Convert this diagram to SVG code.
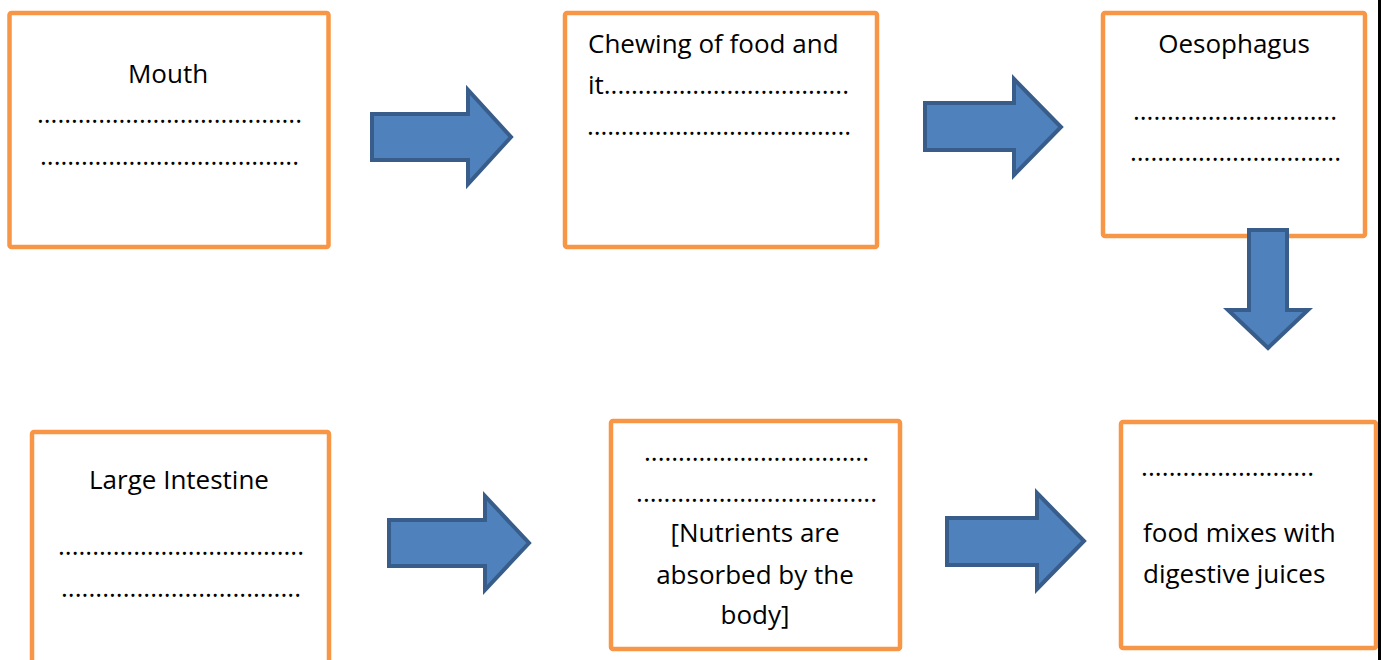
<svg xmlns="http://www.w3.org/2000/svg" width="1381" height="660" viewBox="0 0 1381 660">
<style>
.box{fill:#ffffff;stroke:#F79646;stroke-width:4.5}
.t{font-family:"Open Sans","Liberation Sans",sans-serif;font-size:26px;fill:#000}
.c{text-anchor:middle}
.arrow{fill:#4F81BD;stroke:#385D8A;stroke-width:4;stroke-linejoin:miter}
</style>
<rect width="1381" height="660" fill="#ffffff"/>
<g id="mouth">
<rect class="box" x="9.5" y="13" width="319" height="234" rx="2"/>
<text class="t c" x="168" y="83">Mouth</text>
<text class="t" x="37" y="123" textLength="265">.......................................</text>
<text class="t" x="40" y="165" textLength="259">......................................</text>
</g>
<g id="chewing">
<rect class="box" x="565" y="13" width="312" height="234" rx="2"/>
<text class="t" x="588" y="53">Chewing of food and</text>
<text class="t" x="588" y="94" textLength="261">it....................................</text>
<text class="t" x="587" y="135" textLength="264">.......................................</text>
</g>
<g id="oesophagus">
<rect class="box" x="1103" y="13" width="262" height="223" rx="2"/>
<text class="t c" x="1234" y="53">Oesophagus</text>
<text class="t" x="1133" y="120" textLength="204">..............................</text>
<text class="t" x="1130" y="161" textLength="211">...............................</text>
</g>
<g id="large-intestine">
<rect class="box" x="32" y="432" width="297" height="240" rx="2"/>
<text class="t c" x="179" y="489">Large Intestine</text>
<text class="t" x="58" y="555" textLength="246">....................................</text>
<text class="t" x="61" y="597" textLength="240">...................................</text>
</g>
<g id="small-intestine">
<rect class="box" x="611" y="421" width="289" height="228" rx="2"/>
<text class="t" x="644" y="461" textLength="225">.................................</text>
<text class="t" x="636" y="502" textLength="241">...................................</text>
<text class="t c" x="755" y="542">[Nutrients are</text>
<text class="t c" x="755" y="584">absorbed by the</text>
<text class="t c" x="755" y="624">body]</text>
</g>
<g id="stomach">
<rect class="box" x="1121" y="422" width="255" height="226" rx="2"/>
<text class="t" x="1141" y="476" textLength="173">.........................</text>
<text class="t" x="1143" y="542">food mixes with</text>
<text class="t" x="1143" y="583">digestive juices</text>
</g>
<g id="connectors">
<path class="arrow" d="M372,114 H468 V90 L511,137 L468,184 V160 H372 Z"/>
<path class="arrow" d="M925,103 H1014 V79 L1061,127 L1014,175 V150 H925 Z"/>
<path class="arrow" d="M389,520 H485 V496 L529,543 L485,590 V566 H389 Z"/>
<path class="arrow" d="M947,518 H1037 V493 L1084,541 L1037,589 V565 H947 Z"/>
<path class="arrow" d="M1249,230 H1287 V310 H1308 L1268,348 L1228,310 H1249 Z"/>
</g>
<rect x="1378" y="0" width="3" height="660" fill="#000000"/>
</svg>
